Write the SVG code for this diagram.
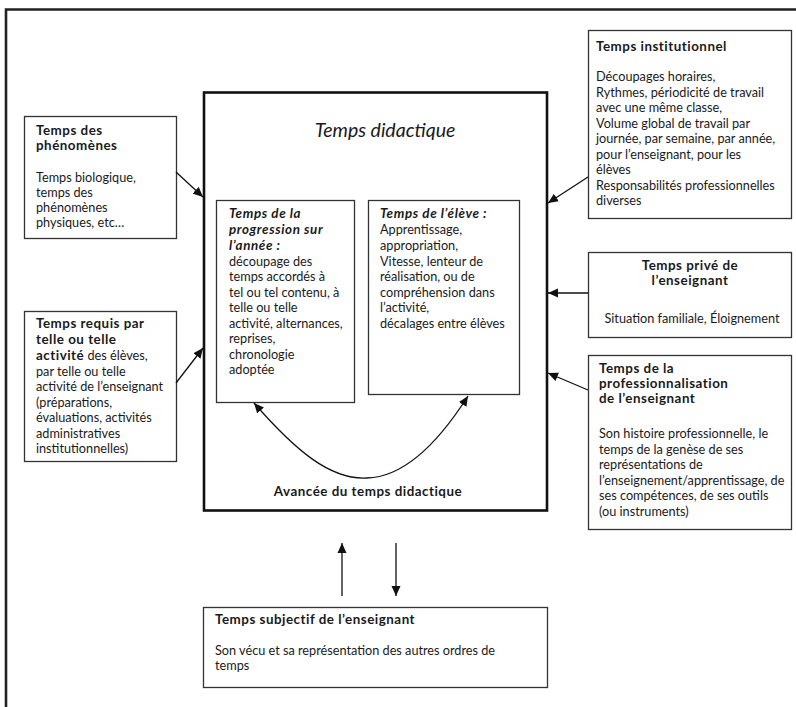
<svg xmlns="http://www.w3.org/2000/svg" width="796" height="707" viewBox="0 0 796 707">
<defs>
<marker id="ah" viewBox="0 0 10 10" refX="10" refY="5" markerWidth="10" markerHeight="10" markerUnits="userSpaceOnUse" orient="auto">
<path d="M0,0.5 L10,5 L0,9.5 z" fill="#111"/>
</marker>
<style>
.t{font-family:Lato,"Open Sans","Liberation Sans",sans-serif;font-size:12.7px;fill:#1a1a1a}
.b{font-weight:bold;font-size:13.4px;letter-spacing:0.5px}
.bi{font-weight:bold;font-style:italic;font-size:13.4px;letter-spacing:0.6px}
.box{fill:#fff;stroke:#333;stroke-width:1.3}
.con{fill:none;stroke:#111;stroke-width:1.3;marker-end:url(#ah)}
</style>
</defs>
<rect width="796" height="707" fill="#fff"/>
<path d="M6,720 L6,9.5 L800,9.5" fill="none" stroke="#222" stroke-width="2.6"/>

<g id="didactique">
<rect x="204" y="92.5" width="343" height="418" fill="#fff" stroke="#111" stroke-width="2.6"/>
<text class="t" x="385" y="137" text-anchor="middle" style="font-size:19.5px;font-style:italic">Temps didactique</text>
<text class="t b" x="368" y="496" text-anchor="middle">Avancée du temps didactique</text>
</g>

<g id="progression">
<rect class="box" x="216.5" y="200.5" width="138" height="202"/>
<text class="t bi" x="229" y="218">Temps de la</text>
<text class="t bi" x="229" y="234">progression sur</text>
<text class="t bi" x="229" y="250">l’année  :</text>
<text class="t" x="229" y="265.5">découpage des</text>
<text class="t" x="229" y="281">temps accordés à</text>
<text class="t" x="229" y="296.5">tel ou tel contenu, à</text>
<text class="t" x="229" y="312">telle ou telle</text>
<text class="t" x="229" y="327.5">activité, alternances,</text>
<text class="t" x="229" y="343">reprises,</text>
<text class="t" x="229" y="358.5">chronologie</text>
<text class="t" x="229" y="374">adoptée</text>
</g>

<g id="eleve">
<rect class="box" x="368.5" y="200.5" width="151" height="194"/>
<text class="t bi" x="380" y="218">Temps de l’élève  :</text>
<text class="t" x="380" y="234">Apprentissage,</text>
<text class="t" x="380" y="250">appropriation,</text>
<text class="t" x="380" y="265.5">Vitesse, lenteur de</text>
<text class="t" x="380" y="281">réalisation, ou de</text>
<text class="t" x="380" y="296.5">compréhension dans</text>
<text class="t" x="380" y="312">l’activité,</text>
<text class="t" x="380" y="327.5">décalages entre élèves</text>
</g>

<g id="phenomenes">
<rect class="box" x="24.5" y="116.5" width="152" height="122"/>
<text class="t b" x="36" y="135">Temps des</text>
<text class="t b" x="36" y="150">phénomènes</text>
<text class="t" x="36" y="182">Temps biologique,</text>
<text class="t" x="36" y="197">temps des</text>
<text class="t" x="36" y="212">phénomènes</text>
<text class="t" x="36" y="227">physiques, etc…</text>
</g>

<g id="requis">
<rect class="box" x="24.5" y="311.5" width="152" height="150"/>
<text class="t b" x="36" y="328">Temps requis par</text>
<text class="t b" x="36" y="344">telle ou telle</text>
<text class="t" x="36" y="360"><tspan class="b">activité</tspan>  des élèves,</text>
<text class="t" x="36" y="375.5">par telle ou telle</text>
<text class="t" x="36" y="391">activité de l’enseignant</text>
<text class="t" x="36" y="406.5">(préparations,</text>
<text class="t" x="36" y="422">évaluations, activités</text>
<text class="t" x="36" y="437.5">administratives</text>
<text class="t" x="36" y="453">institutionnelles)</text>
</g>

<g id="institutionnel">
<rect class="box" x="588.5" y="30.5" width="203" height="188"/>
<text class="t b" x="596" y="51">Temps institutionnel</text>
<text class="t" x="596" y="81">Découpages horaires,</text>
<text class="t" x="596" y="96.5">Rythmes, périodicité de travail</text>
<text class="t" x="596" y="112">avec une même classe,</text>
<text class="t" x="596" y="127.5">Volume global de travail par</text>
<text class="t" x="596" y="143">journée, par semaine, par année,</text>
<text class="t" x="596" y="158.5">pour l’enseignant, pour les</text>
<text class="t" x="596" y="174">élèves</text>
<text class="t" x="596" y="189.5">Responsabilités professionnelles</text>
<text class="t" x="596" y="205">diverses</text>
</g>

<g id="prive">
<rect class="box" x="588.5" y="252.5" width="203" height="85"/>
<text class="t b" x="690" y="270" text-anchor="middle">Temps privé de</text>
<text class="t b" x="690" y="285" text-anchor="middle">l’enseignant</text>
<text class="t" x="692" y="323" text-anchor="middle">Situation familiale, Éloignement</text>
</g>

<g id="professionnalisation">
<rect class="box" x="588.5" y="355.5" width="203" height="174"/>
<text class="t b" x="599" y="373">Temps de la</text>
<text class="t b" x="599" y="388">professionnalisation</text>
<text class="t b" x="599" y="403"> de l’enseignant</text>
<text class="t" x="599" y="438">Son histoire professionnelle, le</text>
<text class="t" x="599" y="453.5">temps de la genèse de ses</text>
<text class="t" x="599" y="469">représentations de</text>
<text class="t" x="599" y="484.5">l’enseignement/apprentissage, de</text>
<text class="t" x="599" y="500">ses compétences, de ses outils</text>
<text class="t" x="599" y="515.5">(ou instruments)</text>
</g>

<g id="subjectif">
<rect class="box" x="203.5" y="607.5" width="344" height="80"/>
<text class="t b" x="215" y="624">Temps subjectif de l’enseignant</text>
<text class="t" x="215" y="655">Son vécu et sa représentation des autres ordres de</text>
<text class="t" x="215" y="670">temps</text>
</g>

<g id="connectors">
<path class="con" d="M176,172 L203,197"/>
<path class="con" d="M176,383 L203,348"/>
<path class="con" d="M588,177 L548,203"/>
<path class="con" d="M588,293 L548,293"/>
<path class="con" d="M588,390 L548,373"/>
<path class="con" d="M342,596 L342,543"/>
<path class="con" d="M396,543 L396,596"/>
<path d="M367,478 C330,480 295,450 254,403" fill="none" stroke="#111" stroke-width="1.3" marker-end="url(#ah)"/>
<path d="M367,478 C405,477 440,440 468,396" fill="none" stroke="#111" stroke-width="1.3" marker-end="url(#ah)"/>
</g>
</svg>
